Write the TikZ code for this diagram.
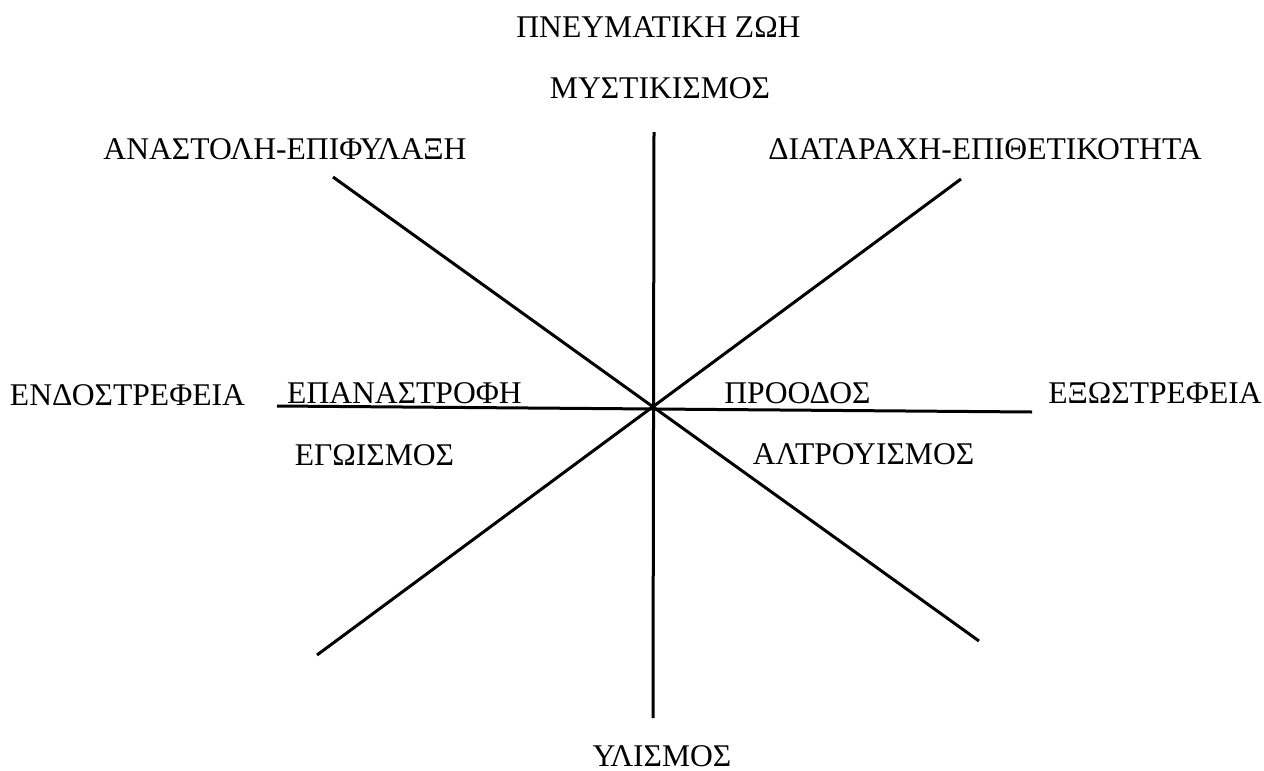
\documentclass[tikz,border=0pt]{standalone}
\usepackage{fontspec}
\setmainfont{Liberation Serif}
\usetikzlibrary{calc}

\tikzset{
    lbl/.style={inner sep=0pt, anchor=base, font=\fontsize{31.6}{36}\selectfont},
    spoke/.style={line width=3pt, black}
}

\begin{document}
\begin{tikzpicture}[x=1pt, y=-1pt]
    \useasboundingbox (0,0) rectangle (1264,771);

    % --- Spoke end points ---
    \coordinate (c)  at (653,408);
    \coordinate (n)  at (654,132);
    \coordinate (s)  at (653,718);
    \coordinate (w)  at (277,406);
    \coordinate (e)  at (1032,412);
    \coordinate (nw) at (333,177);
    \coordinate (se) at (979,641);
    \coordinate (ne) at (961,179);
    \coordinate (sw) at (317,655);

    % Spokes through the centre
    \foreach \a/\b in {n/s, w/e, nw/se, ne/sw}
        \draw[spoke] (\a) -- (\b);

    % --- Top labels ---
    \node[lbl] (pneuma)  at (658.5,37) {ΠΝΕΥΜΑΤΙΚΗ ΖΩΗ};
    \node[lbl] (mystik)  at (660,98)   {ΜΥΣΤΙΚΙΣΜΟΣ};
    \node[lbl] (anastol) at (285,159)  {ΑΝΑΣΤΟΛΗ-ΕΠΙΦΥΛΑΞΗ};
    \node[lbl] (diatar)  at (985,159)  {ΔΙΑΤΑΡΑΧΗ-ΕΠΙΘΕΤΙΚΟΤΗΤΑ};

    % --- Middle labels ---
    \node[lbl] (endos)   at (127.5,405) {ΕΝΔΟΣΤΡΕΦΕΙΑ};
    \node[lbl] (epanas)  at (404.5,403) {ΕΠΑΝΑΣΤΡΟΦΗ};
    \node[lbl] (proodos) at (797.5,403) {ΠΡΟΟΔΟΣ};
    \node[lbl] (exos)    at (1155,403)  {ΕΞΩΣΤΡΕΦΕΙΑ};
    \node[lbl] (egoism)  at (374.5,465) {ΕΓΩΙΣΜΟΣ};
    \node[lbl] (altru)   at (863.5,464) {ΑΛΤΡΟΥΙΣΜΟΣ};

    % --- Bottom label ---
    \node[lbl] (ylism)   at (662,766)   {ΥΛΙΣΜΟΣ};
\end{tikzpicture}
\end{document}
